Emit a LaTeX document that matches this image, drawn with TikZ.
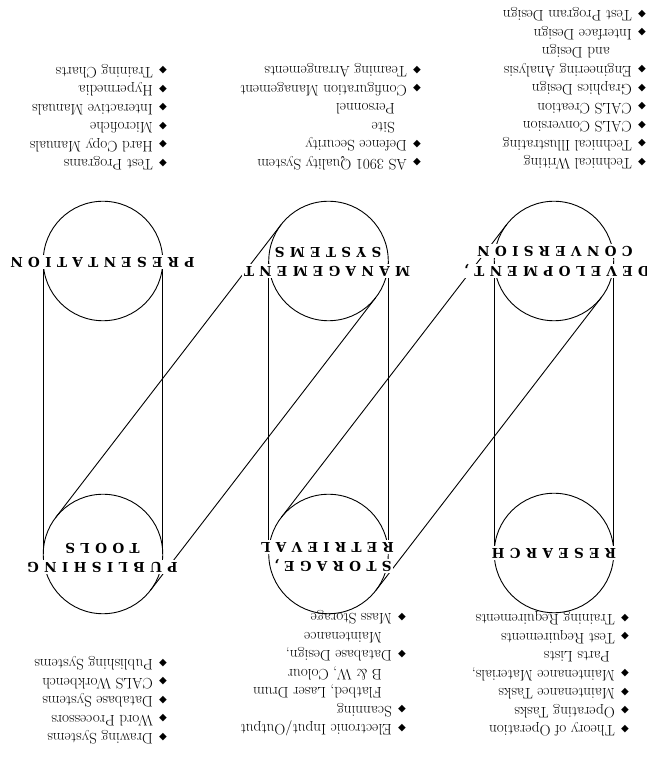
\documentclass[tikz,border=0pt]{standalone}
\usepackage{fontspec}
\newfontfamily\symfont{DejaVu Sans}
\newfontfamily\lblfont{DejaVu Serif}
\usetikzlibrary{calc}
\newcommand{\bul}{\makebox[14pt][l]{\fontsize{10}{10}\symfont\raisebox{0.5pt}{◆}}}
\newcommand{\contline}[1]{\hspace*{#1}}
\makeatletter
\def\spacedcaps#1{\spc@loop#1\@nil}
\def\spc@loop#1{\ifx#1\@nil\unkern\else#1\kern5.3pt\expandafter\spc@loop\fi}
\makeatother
\tikzset{
  ring/.style={circle, draw, minimum size=119.5pt, inner sep=0pt, outer sep=0pt, line width=0.9pt},
  edge/.style={line width=0.9pt},
  lbl/.style={fill=white, inner sep=1.5pt, anchor=base, text height=10pt, text depth=1.5pt,
    font=\lblfont\bfseries\fontsize{13.6}{16}\selectfont},
  lst/.style={align=left, anchor=north west, inner sep=0pt,
    font=\fontsize{15.2}{18.5}\selectfont},
}
\begin{document}
\begin{tikzpicture}[x=1pt,y=1pt]
\useasboundingbox (0,0) rectangle (646,766);
\fill[white] (0,0) rectangle (646,766);
\begin{scope}[rotate around={180:(323,383)}, transform shape]
  % circles
  \node[ring] (res) at (92,553) {};
  \node[ring] (dev) at (92,261) {};
  \node[ring] (sto) at (317.5,554) {};
  \node[ring] (man) at (317.5,261) {};
  \node[ring] (pub) at (543,554) {};
  \node[ring] (pre) at (543,261) {};
  % columns
  \draw[edge] (res.west) -- (dev.west) (res.east) -- (dev.east);
  \draw[edge] (sto.west) -- (man.west) (sto.east) -- (man.east);
  \draw[edge] (pub.west) -- (pre.west) (pub.east) -- (pre.east);
  % bands
  \draw[edge] ($(dev)!59.75pt!90:(sto)$) -- ($(sto)!59.75pt!-90:(dev)$);
  \draw[edge] ($(dev)!59.75pt!-90:(sto)$) -- ($(sto)!59.75pt!90:(dev)$);
  \draw[edge] ($(man)!59.75pt!90:(pub)$) -- ($(pub)!59.75pt!-90:(man)$);
  \draw[edge] ($(man)!59.75pt!-90:(pub)$) -- ($(pub)!59.75pt!90:(man)$);
  % labels
  \node[lbl] (lres) at (92,549) {\spacedcaps{RESEARCH}};
  \node[lbl] (ldev1) at (89,267) {\spacedcaps{DEVELOPMENT,}};
  \node[lbl] (ldev2) at (91,247) {\spacedcaps{CONVERSION}};
  \node[lbl] (lsto1) at (313,562) {\spacedcaps{STORAGE,}};
  \node[lbl] (lsto2) at (318.5,543) {\spacedcaps{RETRIEVAL}};
  \node[lbl] (lman1) at (319,267) {\spacedcaps{MANAGEMENT}};
  \node[lbl] (lman2) at (318,248) {\spacedcaps{SYSTEMS}};
  \node[lbl] (lpub1) at (543.5,563) {\spacedcaps{PUBLISHING}};
  \node[lbl] (lpub2) at (543.5,544) {\spacedcaps{TOOLS}};
  \node[lbl] (lpre) at (543.5,258) {\spacedcaps{PRESENTATION}};
  % lists
  \node[lst] (resl) at (17,736.4) {\bul Theory of Operation\\ \bul Operating Tasks\\ \bul Maintenance Tasks\\ \bul Maintenance Materials,\\ \contline{19pt}Parts Lists\\ \bul Test Requirements\\ \bul Training Requirements};
  \node[lst] (stol) at (240,736.4) {\bul Electronic Input/Output\\ \bul Scanning\\ \contline{24pt}Flatbed, Laser Drum\\ \contline{24pt}B \& W, Colour\\ \bul Database Design,\\ \contline{24pt}Maintenance\\ \bul Mass Storage};
  \node[lst] (publ) at (479,744.4) {\bul Drawing Systems\\ \bul Word Processors\\ \bul Database Systems\\ \bul CALS Workbench\\ \bul Publishing Systems};
  \node[lst] (devl) at (0,169.4) {\bul Technical Writing\\ \bul Technical Illustrating\\ \bul CALS Conversion\\ \bul CALS Creation\\ \bul Graphics Design\\ \bul Engineering Analysis\\ \contline{36pt}and Design\\ \bul Interface Design\\ \bul Test Program Design};
  \node[lst] (manl) at (225,170.4) {\bul AS 3901 Quality System\\ \bul Defence Security\\ \contline{26pt}Site\\ \contline{26pt}Personnel\\ \bul Configuration Management\\ \bul Teaming Arrangements};
  \node[lst] (prel) at (479,170.4) {\bul Test Programs\\ \bul Hard Copy Manuals\\ \bul Microfiche\\ \bul Interactive Manuals\\ \bul Hypermedia\\ \bul Training Charts};
\end{scope}
\end{tikzpicture}
\end{document}
